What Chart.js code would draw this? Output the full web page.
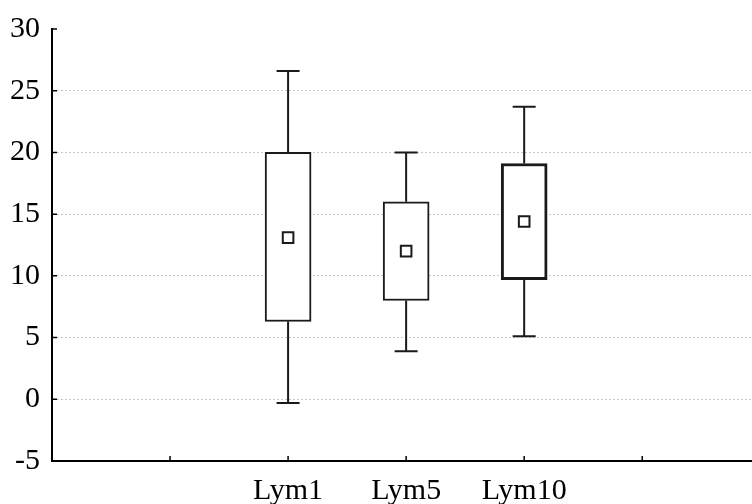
<!DOCTYPE html>
<html>
<head>
<meta charset="utf-8">
<script src="https://cdn.jsdelivr.net/npm/chart.js@4/dist/chart.umd.min.js"></script>
<style>
  html, body { margin: 0; padding: 0; background: #fff; overflow: hidden; }
  canvas { display: block; }
</style>
</head>
<body>
<canvas id="boxChart" width="752" height="504"></canvas>
<script>
const categories = ['Lym1', 'Lym5', 'Lym10'];
const whiskerMin = [-0.3, 3.9, 5.1];
const boxLow = [6.3, 8.0, 9.7];
const boxHigh = [20.0, 16.0, 19.1];
const whiskerMax = [26.6, 20.0, 23.7];
const means = [13.1, 12.0, 14.4];
const yTicks = [-5, 0, 5, 10, 15, 20, 25, 30];

// categories sit on slots 2..4 of a 0..6 axis, slots 1 and 5 are empty ticks
const slotOf = i => i + 2;

const serif = "'Liberation Serif', 'Times New Roman', serif";

// whiskers and inward tick marks
const boxExtras = {
    id: 'boxExtras',
    afterDatasetsDraw: function (chart) {
        const ctx = chart.ctx, x = chart.scales.x, y = chart.scales.y;
        ctx.save();
        ctx.strokeStyle = '#1a1a1a';
        ctx.lineWidth = 2;
        categories.forEach((c, i) => {
            const px = x.getPixelForValue(slotOf(i));
            const segs = [[boxHigh[i], whiskerMax[i]], [boxLow[i], whiskerMin[i]]];
            segs.forEach(s => {
                const a = y.getPixelForValue(s[0]), b = y.getPixelForValue(s[1]);
                ctx.beginPath();
                ctx.moveTo(px, a);
                ctx.lineTo(px, b);
                ctx.moveTo(px - 11.5, b);
                ctx.lineTo(px + 11.5, b);
                ctx.stroke();
            });
        });
        ctx.restore();
    },
    afterDraw: function (chart) {
        const ctx = chart.ctx, x = chart.scales.x, y = chart.scales.y;
        const area = chart.chartArea;
        ctx.save();
        ctx.strokeStyle = '#000';
        ctx.lineWidth = 1.5;
        ctx.beginPath();
        yTicks.forEach(v => {
            const py = y.getPixelForValue(v);
            ctx.moveTo(area.left, py);
            ctx.lineTo(area.left + 5, py);
        });
        [1, 2, 3, 4, 5].forEach(v => {
            const px = x.getPixelForValue(v);
            ctx.moveTo(px, area.bottom);
            ctx.lineTo(px, area.bottom - 5);
        });
        ctx.stroke();
        ctx.restore();
    }
};

const ctx = document.getElementById('boxChart').getContext('2d');
new Chart(ctx, {
    type: 'bar',
    data: {
        datasets: [
            {
                label: 'Box',
                data: categories.map((c, i) => ({ x: slotOf(i), y: [boxLow[i], boxHigh[i]] })),
                backgroundColor: '#fff',
                borderColor: '#1a1a1a',
                borderWidth: [2, 2, 3],
                borderSkipped: false,
                barThickness: 46,
                order: 2
            },
            {
                type: 'scatter',
                label: 'Mean',
                data: categories.map((c, i) => ({ x: slotOf(i), y: means[i] })),
                pointStyle: 'rect',
                pointRadius: 7.5,
                backgroundColor: '#fff',
                borderColor: '#1a1a1a',
                borderWidth: 2,
                order: 1
            }
        ]
    },
    options: {
        responsive: false,
        animation: false,
        layout: { autoPadding: false, padding: { top: 29, left: 10, right: 0, bottom: 0 } },
        plugins: {
            legend: { display: false },
            tooltip: { enabled: false }
        },
        scales: {
            x: {
                type: 'linear',
                offset: false,
                min: 0,
                max: 5.93,
                grid: { display: false, drawTicks: false },
                border: { display: true, color: '#000', width: 2 },
                afterBuildTicks: function (scale) {
                    scale.ticks = [1, 2, 3, 4, 5].map(v => ({ value: v }));
                },
                afterFit: function (scale) {
                    scale.height = 43;
                },
                ticks: {
                    padding: 17,
                    color: '#000',
                    font: { family: serif, size: 30, lineHeight: 0.9 },
                    maxRotation: 0,
                    autoSkip: false,
                    callback: function (value) {
                        return categories[value - 2] || '';
                    }
                }
            },
            y: {
                min: -5,
                max: 30,
                afterBuildTicks: function (scale) {
                    scale.ticks = yTicks.map(v => ({ value: v }));
                },
                afterFit: function (scale) {
                    scale.width = 42;
                },
                grid: {
                    drawTicks: false,
                    lineWidth: 1,
                    color: function (c) {
                        const v = c.tick ? c.tick.value : null;
                        return (v === 30 || v === -5) ? 'rgba(0,0,0,0)' : '#c8c8c8';
                    }
                },
                border: { display: true, color: '#000', width: 2, dash: [2, 2] },
                ticks: {
                    padding: 12,
                    color: '#000',
                    font: { family: serif, size: 30, lineHeight: 1 }
                }
            }
        }
    },
    plugins: [boxExtras]
});
</script>
</body>
</html>
